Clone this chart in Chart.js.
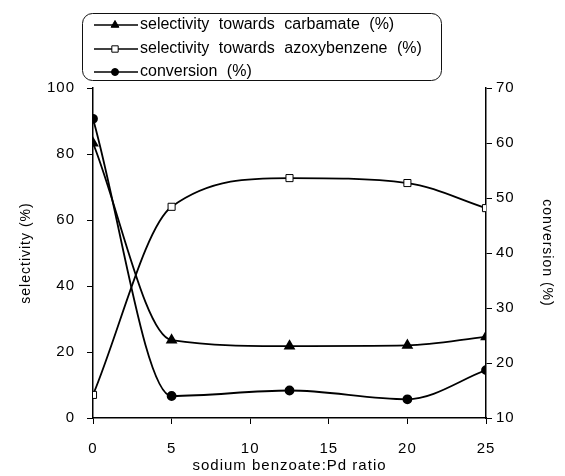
<!DOCTYPE html>
<html>
<head>
<meta charset="utf-8">
<script src="https://cdn.jsdelivr.net/npm/chart.js@4.4.1/dist/chart.umd.min.js"></script>
<style>
  html, body { margin: 0; padding: 0; background: #fff; }
  #wrap { width: 565px; height: 476px; }
</style>
</head>
<body>
<div id="wrap"><canvas id="chart" width="565" height="476"></canvas></div>
<script>
const ratio = [0, 5, 12.5, 20, 25];
const carbamate = [83.3, 23.6, 21.8, 22, 24.6];
const azoxybenzene = [7, 64, 72.7, 71.2, 63.6];
const conversion = [64.4, 14, 15, 13.4, 18.7];

const seriesNames = [
  'selectivity towards carbamate (%)',
  'selectivity towards azoxybenzene (%)',
  'conversion (%)'
];

function toPoints(values) {
  return values.map(function(v, i) {
    return { x: ratio[i], y: v };
  });
}

const font = '"Liberation Sans", Arial, sans-serif';

// the scanned figure uses widely spaced lettering
const spacing = {
  id: 'spacing',
  beforeDraw(chart) {
    if ('letterSpacing' in chart.ctx) chart.ctx.letterSpacing = '1px';
  }
};

// legend drawn in a rounded box above the plot, one entry per row
const boxLegend = {
  id: 'boxLegend',
  afterDraw(chart) {
    const ctx = chart.ctx;
    ctx.save();
    ctx.strokeStyle = '#111';
    ctx.lineWidth = 1;
    ctx.beginPath();
    ctx.roundRect(82.5, 13.5, 359, 67, 10);
    ctx.stroke();

    const rows = [25, 49, 72];
    chart.data.datasets.forEach(function(ds, i) {
      const y = rows[i];
      ctx.strokeStyle = '#000';
      ctx.lineWidth = 1.5;
      ctx.beginPath();
      ctx.moveTo(94, y);
      ctx.lineTo(138, y);
      ctx.stroke();
      ctx.lineWidth = 1;
      ctx.fillStyle = ds.pointBackgroundColor;
      ctx.strokeStyle = '#000';
      Chart.helpers.drawPoint(ctx, {
        pointStyle: ds.pointStyle,
        radius: ds.pointRadius - 0.5,
        borderWidth: 1
      }, 115, y);
      ctx.fillStyle = '#000';
      ctx.font = '16px ' + font;
      ctx.textBaseline = 'middle';
      if ('letterSpacing' in ctx) ctx.letterSpacing = '0px';
      if ('wordSpacing' in ctx) ctx.wordSpacing = '5px';
      ctx.fillText(ds.label, 140, y);
    });
    ctx.restore();
  }
};

new Chart(document.getElementById('chart'), {
  type: 'line',
  data: {
    datasets: [
      {
        label: seriesNames[0],
        data: toPoints(carbamate),
        yAxisID: 'y',
        borderColor: '#000',
        borderWidth: 1.8,
        pointStyle: 'triangle',
        pointRadius: 5,
        pointBackgroundColor: '#000',
        pointBorderColor: '#000',
        cubicInterpolationMode: 'monotone'
      },
      {
        label: seriesNames[1],
        data: toPoints(azoxybenzene),
        yAxisID: 'y',
        borderColor: '#000',
        borderWidth: 1.8,
        pointStyle: 'rect',
        pointRadius: 5,
        pointBorderWidth: 1,
        pointBackgroundColor: '#fff',
        pointBorderColor: '#000',
        cubicInterpolationMode: 'monotone'
      },
      {
        label: seriesNames[2],
        data: toPoints(conversion),
        yAxisID: 'y1',
        borderColor: '#000',
        borderWidth: 1.8,
        pointStyle: 'circle',
        pointRadius: 4,
        pointBackgroundColor: '#000',
        pointBorderColor: '#000',
        cubicInterpolationMode: 'monotone'
      }
    ]
  },
  options: {
    responsive: false,
    animation: false,
    layout: { padding: { top: 88, left: 14, right: 6, bottom: 0 } },
    plugins: {
      legend: { display: false },
      tooltip: { enabled: false }
    },
    scales: {
      x: {
        type: 'linear',
        min: 0,
        max: 25,
        ticks: { stepSize: 5, color: '#000', font: { family: font, size: 15 }, padding: 16 },
        grid: { drawOnChartArea: false, tickLength: 6, color: '#000' },
        border: { color: '#000', width: 1.5 },
        title: { display: true, text: 'sodium benzoate:Pd ratio', color: '#000', font: { family: font, size: 15 }, padding: { top: 0, bottom: 1 } },
        afterFit(scale) { scale.height = 58; }
      },
      y: {
        position: 'left',
        min: 0,
        max: 100,
        ticks: { stepSize: 20, color: '#000', font: { family: font, size: 15 }, padding: 12 },
        grid: { drawOnChartArea: false, tickLength: 6, color: '#000' },
        border: { color: '#000', width: 1.5 },
        title: { display: true, text: 'selectivity (%)', color: '#000', font: { family: font, size: 14 } },
        afterFit(scale) { scale.width = 79; }
      },
      y1: {
        position: 'right',
        min: 10,
        max: 70,
        ticks: { stepSize: 10, color: '#000', font: { family: font, size: 15 }, padding: 4 },
        grid: { drawOnChartArea: false, tickLength: 6, color: '#000' },
        border: { color: '#000', width: 1.5 },
        title: { display: true, text: 'conversion (%)', color: '#000', font: { family: font, size: 14 } },
        afterFit(scale) { scale.width = 73; }
      }
    }
  },
  plugins: [spacing, boxLegend]
});
</script>
</body>
</html>
